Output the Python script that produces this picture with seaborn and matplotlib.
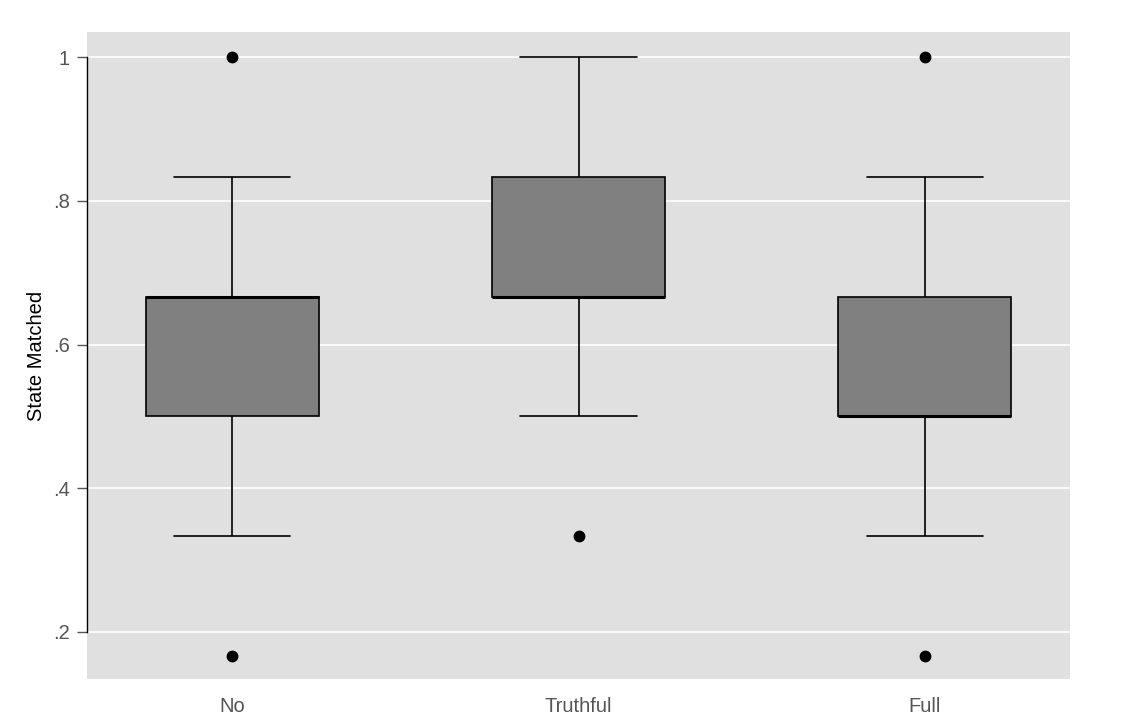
import numpy as np
import pandas as pd
import matplotlib
matplotlib.use("Agg")
import matplotlib.pyplot as plt
import seaborn as sns

# Share of states matched (k/6) and number of observations at each level
levels = [1/6, 2/6, 3/6, 4/6, 5/6, 1.0]
counts_no = [1, 2, 5, 8, 2, 1]
counts_truthful = [0, 1, 3, 9, 5, 1]
counts_full = [1, 2, 8, 5, 2, 1]
categories = ["No", "Truthful", "Full"]
yticks = [0.2, 0.4, 0.6, 0.8, 1.0]
ytick_labels = [".2", ".4", ".6", ".8", "1"]

rows = []
for cat, cnts in zip(categories, [counts_no, counts_truthful, counts_full]):
    for lv, c in zip(levels, cnts):
        rows += [(cat, lv)] * c
df = pd.DataFrame(rows, columns=["group", "State Matched"])

sns.set_theme(style="white")
plt.rcParams["font.family"] = ["Liberation Sans", "DejaVu Sans"]

fig = plt.figure(figsize=(11.24, 7.24), dpi=100)
ax = fig.add_axes([87/1124, 1-679/724, (1070-87)/1124, (679-32)/724])
ax.set_facecolor("#e0e0e0")

sns.boxplot(data=df, x="group", y="State Matched", order=categories, ax=ax,
            color="#808080", width=0.5, whis=1.5, linecolor="black",
            linewidth=1.2, saturation=1, capwidths=0.335,
            flierprops=dict(marker="o", markerfacecolor="black",
                            markeredgecolor="black", markersize=7.5),
            medianprops=dict(color="black", linewidth=2.2),
            boxprops=dict(edgecolor="black", facecolor="#808080", linewidth=1.2))

ax.set_xlim(-0.419, 2.419)
ax.set_ylim(0.1345, 1.035)
ax.set_yticks(yticks)
ax.set_yticklabels(ytick_labels)
ax.yaxis.grid(True, color="white", linewidth=1.2)
ax.xaxis.grid(False)
ax.set_axisbelow(True)
for s in ["top", "right", "bottom"]:
    ax.spines[s].set_visible(False)
ax.spines["left"].set_visible(True)
ax.spines["left"].set_color("black")
ax.spines["left"].set_linewidth(1.0)
ax.spines["left"].set_bounds(0.2, 1.0)
ax.tick_params(axis="y", which="major", left=True, length=7.5, width=1,
               color="#555555", labelcolor="#555555", labelsize=14.5, pad=5)
ax.tick_params(axis="x", bottom=False, labelcolor="#555555", labelsize=14.5, pad=7)
ax.set_xlabel("")
ax.set_ylabel("State Matched", fontsize=14.5, color="black", labelpad=5)

fig.savefig("out.png", dpi=100)
